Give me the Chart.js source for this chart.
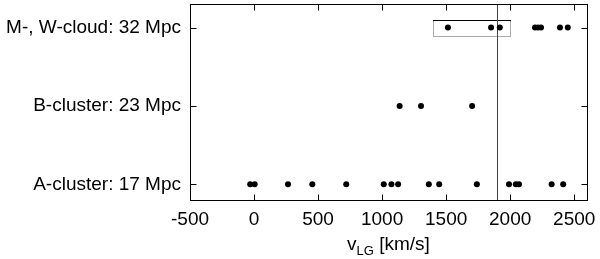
<!DOCTYPE html>
<html>
<head>
<meta charset="utf-8">
<script src="https://cdn.jsdelivr.net/npm/chart.js@4.4.1/dist/chart.umd.min.js"></script>
<style>
  html, body { margin: 0; padding: 0; background: #fff; }
  #wrap { width: 600px; height: 259px; }
</style>
</head>
<body>
<div id="wrap"><canvas id="chart" width="600" height="259"></canvas></div>
<script>
// --- datos ---
const groupLabels = ['A-cluster: 17 Mpc', 'B-cluster: 23 Mpc', 'M-, W-cloud: 32 Mpc'];
const aCluster = [-30, 5, 265, 455, 720, 1013, 1073, 1125, 1365, 1446, 1740, 1991, 2044, 2069, 2324, 2414];
const bCluster = [1137, 1304, 1703];
const mwCloud = [1514, 1851, 1919, 2194, 2217, 2241, 2389, 2450];
const xTicks = [-500, 0, 500, 1000, 1500, 2000, 2500];
const vLine = 1900;            // linea vertical
const mwRange = [1400, 2000];  // caja sobre la fila superior

const FONT = 'Liberation Sans, Arial, Helvetica, sans-serif';

function toPoints(vals, row) {
    return vals.map(v => ({ x: v, y: row }));
}

// marco, ticks hacia dentro, linea vertical, caja y titulo del eje x
const framePlugin = {
    id: 'frame',
    beforeDatasetsDraw(chart) {
        const { ctx, chartArea: a, scales: { x, y } } = chart;
        ctx.save();
        // caja gris
        const bx0 = x.getPixelForValue(mwRange[0]), bx1 = x.getPixelForValue(mwRange[1]);
        const by0 = y.getPixelForValue(2.1), by1 = y.getPixelForValue(1.9);
        ctx.strokeStyle = '#aaaaaa';
        ctx.lineWidth = 1;
        ctx.strokeRect(Math.round(bx0) + 0.5, Math.round(by0) + 0.5, Math.round(bx1 - bx0), Math.round(by1 - by0));
        ctx.strokeStyle = '#000';
        ctx.beginPath();
        ctx.moveTo(Math.round(bx0), Math.round(by0) + 0.5);
        ctx.lineTo(Math.round(bx1) + 1, Math.round(by0) + 0.5);
        ctx.stroke();
        // linea vertical
        const vx = Math.round(x.getPixelForValue(vLine)) + 0.5;
        ctx.strokeStyle = '#444';
        ctx.beginPath();
        ctx.moveTo(vx, a.top);
        ctx.lineTo(vx, a.bottom);
        ctx.stroke();
        ctx.restore();
    },
    afterDraw(chart) {
        const { ctx, chartArea: a, scales: { x, y } } = chart;
        const L = Math.round(a.left) + 0.5, R = Math.round(a.right) + 0.5;
        const T = Math.round(a.top) + 0.5, B = Math.round(a.bottom) + 0.5;
        ctx.save();
        ctx.strokeStyle = '#000';
        ctx.lineWidth = 1;
        ctx.strokeRect(L, T, R - L, B - T);
        ctx.beginPath();
        xTicks.forEach(v => {
            const px = Math.round(x.getPixelForValue(v)) + 0.5;
            ctx.moveTo(px, B); ctx.lineTo(px, B - 6);
            ctx.moveTo(px, T); ctx.lineTo(px, T + 6);
        });
        [0, 1, 2].forEach(v => {
            const py = Math.round(y.getPixelForValue(v)) + 0.5;
            ctx.moveTo(L, py); ctx.lineTo(L + 6, py);
            ctx.moveTo(R, py); ctx.lineTo(R - 6, py);
        });
        ctx.stroke();

        // titulo del eje x con subindice
        const big = '19px ' + FONT, small = '13px ' + FONT;
        const parts = [['v', big, 0], ['LG', small, 5], [' [km/s]', big, 0]];
        let w = 0;
        parts.forEach(p => { ctx.font = p[1]; w += ctx.measureText(p[0]).width; });
        let cx = (a.left + a.right) / 2 - w / 2;
        const cy = 250;
        ctx.fillStyle = '#000';
        ctx.textBaseline = 'alphabetic';
        parts.forEach(p => {
            ctx.font = p[1];
            ctx.fillText(p[0], cx, cy + p[2]);
            cx += ctx.measureText(p[0]).width;
        });
        ctx.restore();
    }
};

const pointStyle = {
    backgroundColor: '#000',
    borderColor: '#000',
    pointRadius: 3,
    pointBorderWidth: 0,
    showLine: false
};

new Chart(document.getElementById('chart').getContext('2d'), {
    type: 'scatter',
    data: {
        datasets: [
            Object.assign({ data: toPoints(aCluster, 0) }, pointStyle),
            Object.assign({ data: toPoints(bCluster, 1) }, pointStyle),
            Object.assign({ data: toPoints(mwCloud, 2) }, pointStyle)
        ]
    },
    options: {
        responsive: false,
        animation: false,
        layout: { padding: { top: 4, right: 13, left: 0, bottom: 0 } },
        plugins: { legend: { display: false }, tooltip: { enabled: false } },
        scales: {
            x: {
                type: 'linear',
                min: -500,
                max: 2600,
                afterBuildTicks: (axis) => { axis.ticks = xTicks.map(v => ({ value: v })); },
                afterFit: (s) => { s.height = 59; s.paddingLeft = 0; s.paddingRight = 0; },
                grid: { display: false, drawTicks: false },
                border: { display: false },
                ticks: {
                    color: '#000',
                    padding: 8,
                    maxRotation: 0,
                    autoSkip: false,
                    font: { family: FONT, size: 19 },
                    callback: (v) => String(v)
                }
            },
            y: {
                type: 'linear',
                min: -0.2,
                max: 2.3,
                afterBuildTicks: (axis) => { axis.ticks = [0, 1, 2].map(v => ({ value: v })); },
                afterFit: (s) => { s.width = 190; s.paddingTop = 0; s.paddingBottom = 0; },
                grid: { display: false, drawTicks: false },
                border: { display: false },
                ticks: {
                    color: '#000',
                    padding: 9,
                    autoSkip: false,
                    font: { family: FONT, size: 19 },
                    callback: (v) => groupLabels[v] || ''
                }
            }
        }
    },
    plugins: [framePlugin]
});
</script>
</body>
</html>
